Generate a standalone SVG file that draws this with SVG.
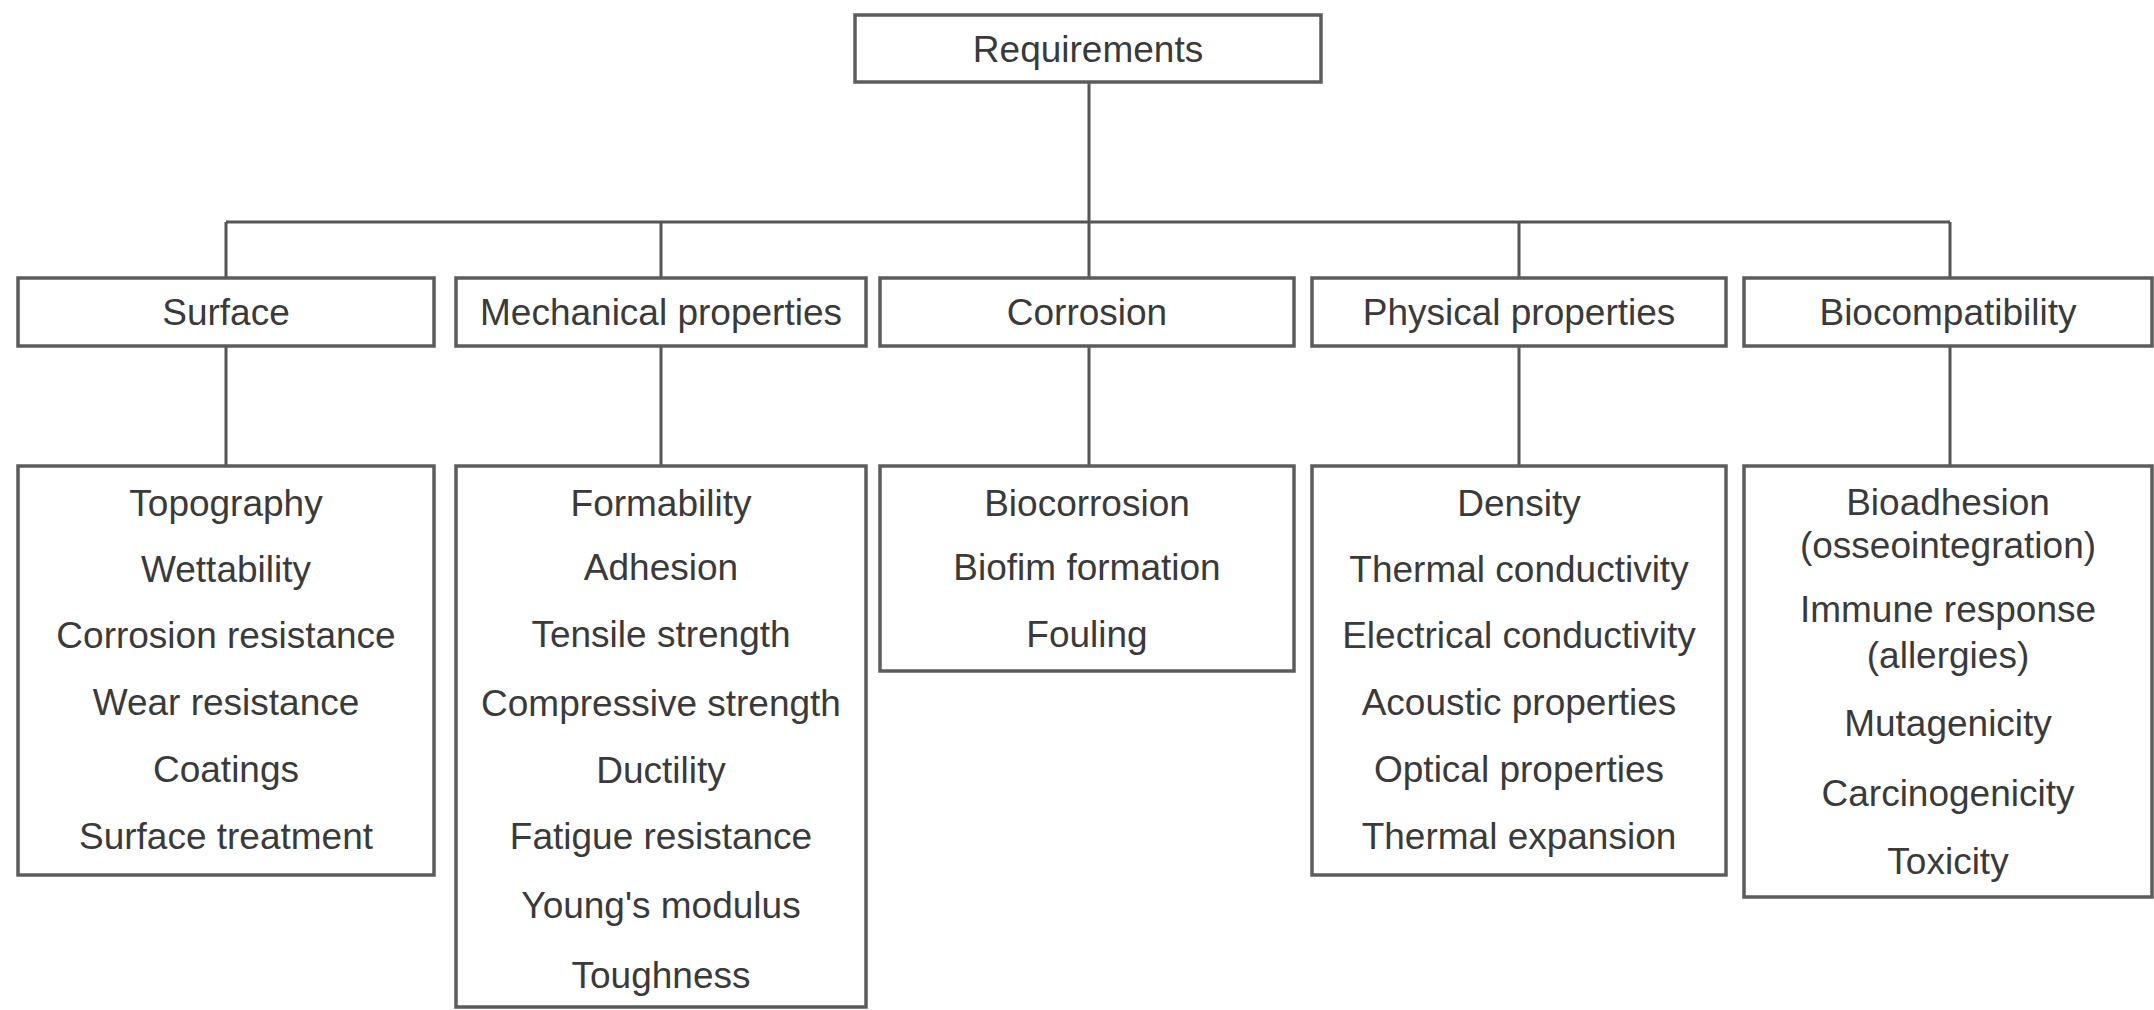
<svg xmlns="http://www.w3.org/2000/svg" width="2154" height="1010" viewBox="0 0 2154 1010">
<style>
.box{fill:#ffffff;stroke:#5c5c5c;stroke-width:3.5}
.t{font-family:"Liberation Sans",Arial,sans-serif;font-size:37px;fill:#3a3a3a;text-anchor:middle}
.c{stroke:#555555;stroke-width:3;fill:none}
</style>
<rect width="2154" height="1010" fill="#ffffff"/>
<g id="connectors">
<path class="c" d="M1089 82V222M226 222H1950M226 222V278M661 222V278M1089 222V278M1519 222V278M1950 222V278"/>
<path class="c" d="M226 346V466M661 346V466M1089 346V466M1519 346V466M1950 346V466"/>
</g>
<g id="requirements">
<rect class="box" x="855" y="15" width="466" height="67"/>
<text class="t" x="1088" y="62">Requirements</text>
</g>
<g id="surface">
<rect class="box" x="18" y="278" width="416" height="68"/>
<text class="t" x="226" y="325">Surface</text>
</g>
<g id="mechanical">
<rect class="box" x="456" y="278" width="410" height="68"/>
<text class="t" x="661" y="325">Mechanical properties</text>
</g>
<g id="corrosion">
<rect class="box" x="880" y="278" width="414" height="68"/>
<text class="t" x="1087" y="325">Corrosion</text>
</g>
<g id="physical">
<rect class="box" x="1312" y="278" width="414" height="68"/>
<text class="t" x="1519" y="325">Physical properties</text>
</g>
<g id="biocompatibility">
<rect class="box" x="1744" y="278" width="408" height="68"/>
<text class="t" x="1948" y="325">Biocompatibility</text>
</g>
<g id="surface-list">
<rect class="box" x="18" y="466" width="416" height="409"/>
<text class="t" x="226" y="516">Topography</text>
<text class="t" x="226" y="582">Wettability</text>
<text class="t" x="226" y="648">Corrosion resistance</text>
<text class="t" x="226" y="715">Wear resistance</text>
<text class="t" x="226" y="782">Coatings</text>
<text class="t" x="226" y="849">Surface treatment</text>
</g>
<g id="mechanical-list">
<rect class="box" x="456" y="466" width="410" height="541"/>
<text class="t" x="661" y="516">Formability</text>
<text class="t" x="661" y="580">Adhesion</text>
<text class="t" x="661" y="647">Tensile strength</text>
<text class="t" x="661" y="716">Compressive strength</text>
<text class="t" x="661" y="783">Ductility</text>
<text class="t" x="661" y="849">Fatigue resistance</text>
<text class="t" x="661" y="918">Young's modulus</text>
<text class="t" x="661" y="988">Toughness</text>
</g>
<g id="corrosion-list">
<rect class="box" x="880" y="466" width="414" height="205"/>
<text class="t" x="1087" y="516">Biocorrosion</text>
<text class="t" x="1087" y="580">Biofim formation</text>
<text class="t" x="1087" y="647">Fouling</text>
</g>
<g id="physical-list">
<rect class="box" x="1312" y="466" width="414" height="409"/>
<text class="t" x="1519" y="516">Density</text>
<text class="t" x="1519" y="582">Thermal conductivity</text>
<text class="t" x="1519" y="648">Electrical conductivity</text>
<text class="t" x="1519" y="715">Acoustic properties</text>
<text class="t" x="1519" y="782">Optical properties</text>
<text class="t" x="1519" y="849">Thermal expansion</text>
</g>
<g id="biocompatibility-list">
<rect class="box" x="1744" y="466" width="408" height="431"/>
<text class="t" x="1948" y="515">Bioadhesion</text>
<text class="t" x="1948" y="558">(osseointegration)</text>
<text class="t" x="1948" y="622">Immune response</text>
<text class="t" x="1948" y="668">(allergies)</text>
<text class="t" x="1948" y="736">Mutagenicity</text>
<text class="t" x="1948" y="806">Carcinogenicity</text>
<text class="t" x="1948" y="874">Toxicity</text>
</g>
</svg>
